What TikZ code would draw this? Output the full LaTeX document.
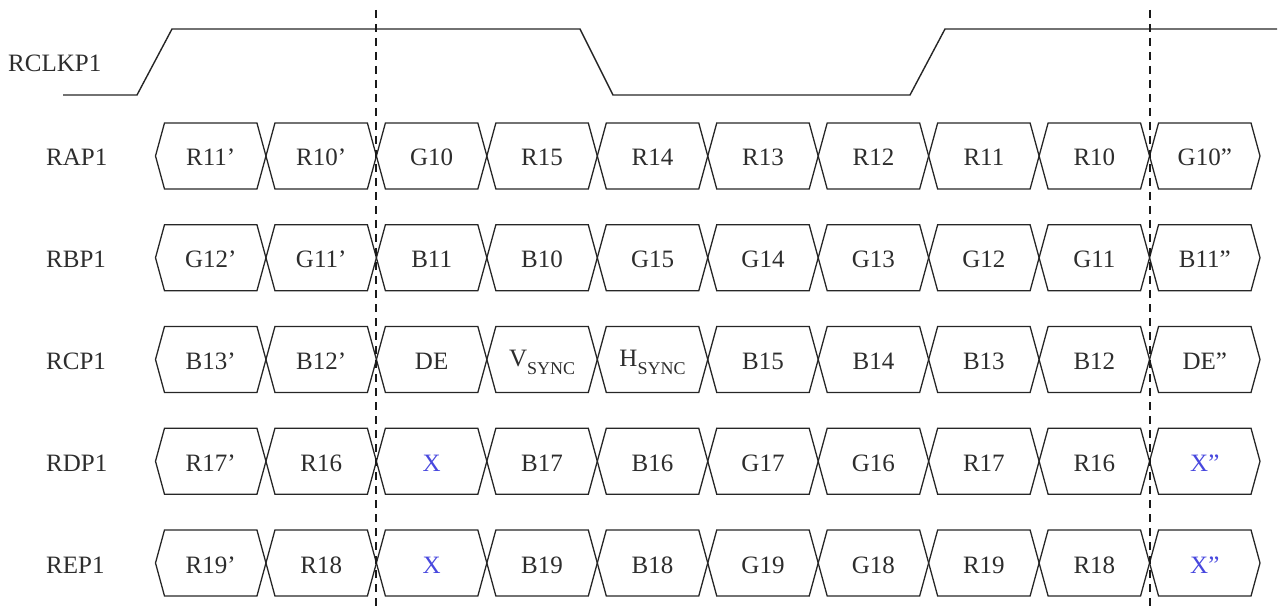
\documentclass[tikz,border=0pt]{standalone}
\usepackage{fontspec}
\setmainfont{Liberation Serif}
\definecolor{txt}{RGB}{45,45,45}
\definecolor{xblue}{RGB}{72,72,222}
\newcommand{\sigsub}[2]{#1\raisebox{-0.3em}{\fontsize{18}{20}\selectfont #2}}
\newcommand{\hexrow}[3]{%
  \pgfmathsetmacro{\yc}{156+101.75*#1}
  \node[lbl, anchor=base west] (lab#1) at (46,\yc+10) {#2};
  \foreach \t/\s/\o [count=\k from 0] in {#3} {
    \pgfmathsetmacro{\xa}{155.5+110.45*\k}
    \pgfmathsetmacro{\xb}{155.5+110.45*(\k+1)}
    \pgfmathsetmacro{\xm}{(\xa+\xb)/2}
    \coordinate (p#1-\k-a) at (\xa,\yc);
    \coordinate (p#1-\k-b) at (\xa+9,\yc-33);
    \coordinate (p#1-\k-c) at (\xb-9,\yc-33);
    \coordinate (p#1-\k-d) at (\xb,\yc);
    \coordinate (p#1-\k-e) at (\xb-9,\yc+33);
    \coordinate (p#1-\k-f) at (\xa+9,\yc+33);
    \draw[hexline] (p#1-\k-a) -- (p#1-\k-b) -- (p#1-\k-c) -- (p#1-\k-d) -- (p#1-\k-e) -- (p#1-\k-f) -- cycle;
    \node[\s, anchor=base] (n#1-\k) at (\xm,\yc+\o) {\t};
  }
}
\begin{document}
\begin{tikzpicture}[x=1pt,y=-1pt,
  sig/.style={line width=1.4pt, line join=miter, black!85},
  hexline/.style={line width=1.3pt, line join=miter, black!85},
  guide/.style={line width=1.9pt, dash pattern=on 8pt off 6pt, black!90},
  lbl/.style={font=\fontsize{25}{30}\selectfont, text=txt, inner sep=0pt},
  cell/.style={font=\fontsize{25}{30}\selectfont, text=txt, inner sep=0pt},
  xcell/.style={cell, text=xblue}]
\useasboundingbox (0,0) rectangle (1279,612);
% clock
\node[lbl, anchor=base west] (clk) at (8,72) {RCLKP1};
\coordinate (c0) at (63,95);
\coordinate (c1) at (137,95);
\coordinate (c2) at (172,29);
\coordinate (c3) at (580,29);
\coordinate (c4) at (613,95);
\coordinate (c5) at (910,95);
\coordinate (c6) at (945,29);
\coordinate (c7) at (1277,29);
\draw[sig] (c0) -- (c1) -- (c2) -- (c3) -- (c4) -- (c5) -- (c6) -- (c7);
% rows
\hexrow{0}{RAP1}{R11’/cell/10, R10’/cell/10, G10/cell/10, R15/cell/10, R14/cell/10, R13/cell/10, R12/cell/10, R11/cell/10, R10/cell/10, G10”/cell/10}
\hexrow{1}{RBP1}{G12’/cell/10, G11’/cell/10, B11/cell/10, B10/cell/10, G15/cell/10, G14/cell/10, G13/cell/10, G12/cell/10, G11/cell/10, B11”/cell/10}
\hexrow{2}{RCP1}{B13’/cell/10, B12’/cell/10, DE/cell/10, {\sigsub{V}{SYNC}}/cell/7, {\sigsub{H}{SYNC}}/cell/7, B15/cell/10, B14/cell/10, B13/cell/10, B12/cell/10, DE”/cell/10}
\hexrow{3}{RDP1}{R17’/cell/10, R16/cell/10, X/xcell/10, B17/cell/10, B16/cell/10, G17/cell/10, G16/cell/10, R17/cell/10, R16/cell/10, X”/xcell/10}
\hexrow{4}{REP1}{R19’/cell/10, R18/cell/10, X/xcell/10, B19/cell/10, B18/cell/10, G19/cell/10, G18/cell/10, R19/cell/10, R18/cell/10, X”/xcell/10}
% guide lines
\coordinate (g1t) at (376.4,10);
\coordinate (g1b) at (376.4,612);
\coordinate (g2t) at (1149.6,10);
\coordinate (g2b) at (1149.6,612);
\draw[guide] (g1t) -- (g1b);
\draw[guide] (g2t) -- (g2b);
\end{tikzpicture}
\end{document}
